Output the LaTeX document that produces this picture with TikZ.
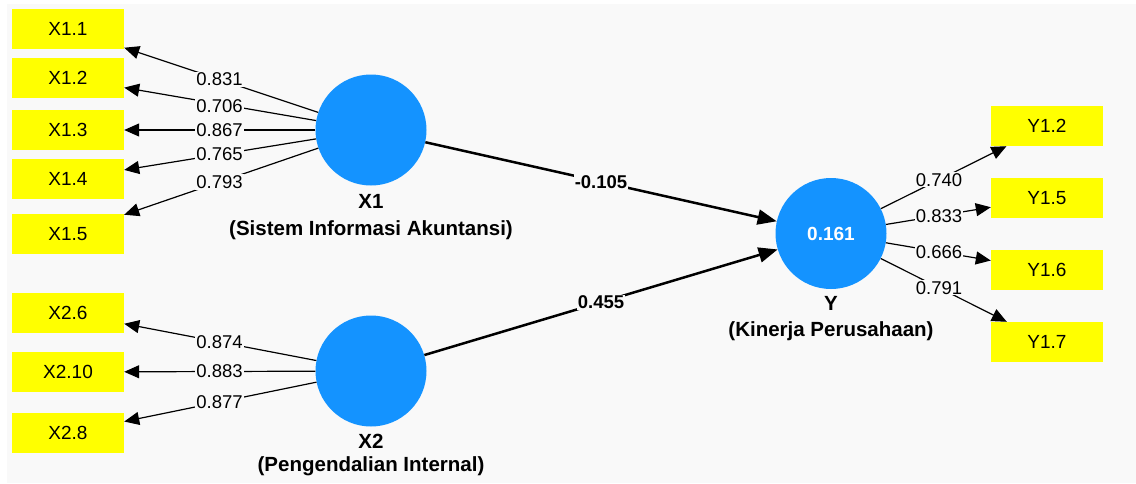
\documentclass[tikz,border=0pt]{standalone}
\usepackage{fontspec}
\setmainfont{Liberation Sans}
\usetikzlibrary{arrows.meta,calc}
\definecolor{panel}{HTML}{F9F9F9}
\definecolor{latblue}{HTML}{1493FF}
\definecolor{indyellow}{HTML}{FFFF00}
\begin{document}
\begin{tikzpicture}[x=1pt,y=-1pt,
  ind/.style={fill=indyellow, minimum width=112pt, minimum height=40pt, inner sep=0pt, font=\fontsize{19}{22}\selectfont},
  lat/.style={circle, fill=latblue, minimum size=111pt, inner sep=0pt},
  loadarrow/.style={-{Triangle[length=15pt,width=13pt]}, line width=1.2pt},
  strarrow/.style={-{Triangle[length=19pt,width=15pt]}, line width=2.5pt},
  lbl/.style={fill=panel, inner sep=1pt, font=\fontsize{18.5}{20}\selectfont},
  slbl/.style={fill=panel, inner sep=1pt, font=\bfseries\fontsize{18.5}{20}\selectfont},
  ttl/.style={font=\bfseries\fontsize{20.5}{22}\selectfont, inner sep=0pt}
]
\useasboundingbox (0,0) rectangle (1136,483);
\fill[white] (0,0) rectangle (1136,483);
\fill[panel] (7,4) rectangle (1136,483);

% indicators
\node[ind] (x11) at (68,29) {X1.1};
\node[ind] (x12) at (68,78) {X1.2};
\node[ind] (x13) at (68,130) {X1.3};
\node[ind] (x14) at (68,179) {X1.4};
\node[ind] (x15) at (68,234) {X1.5};
\node[ind] (x26) at (68,313) {X2.6};
\node[ind] (x210) at (68,372) {X2.10};
\node[ind] (x28) at (68,433) {X2.8};
\node[ind] (y12) at (1047,126) {Y1.2};
\node[ind] (y15) at (1047,198) {Y1.5};
\node[ind] (y16) at (1047,270) {Y1.6};
\node[ind] (y17) at (1047,342) {Y1.7};

% latent variables
\node[lat] (X1) at (371,130) {};
\node[lat] (X2) at (371,371) {};
\node[lat, font=\bfseries\fontsize{19}{22}\selectfont, text=white] (Y) at (831,233.5) {0.161};

\node[ttl] (tx1) at (371,201) {X1};
\node[ttl] (sx1) at (371,230) {(Sistem Informasi Akuntansi)};
\node[ttl] (tx2) at (371,441) {X2};
\node[ttl] (sx2) at (371,466) {(Pengendalian Internal)};
\node[ttl] (ty) at (831,303) {Y};
\node[ttl] (sy) at (831,331) {(Kinerja Perusahaan)};

% outer loadings
\draw[loadarrow] (X1) -- (x11);
\draw[loadarrow] (X1) -- (x12);
\draw[loadarrow] (X1) -- (x13);
\draw[loadarrow] (X1) -- (x14);
\draw[loadarrow] (X1) -- (x15);
\draw[loadarrow] (X2) -- (x26);
\draw[loadarrow] (X2) -- (x210);
\draw[loadarrow] (X2) -- (x28);
\draw[loadarrow] (Y) -- (y12);
\draw[loadarrow] (Y) -- (y15);
\draw[loadarrow] (Y) -- (y16);
\draw[loadarrow] (Y) -- (y17);

% structural paths
\draw[strarrow] (X1) -- (Y);
\draw[strarrow] (X2) -- (Y);

% labels
\node[lbl] (l11) at ($(X1)!0.5!(x11)$) {0.831};
\node[lbl] (l12) at ($(X1)!0.5!(x12)+(0,2)$) {0.706};
\node[lbl] (l13) at ($(X1)!0.5!(x13)$) {0.867};
\node[lbl] (l14) at ($(X1)!0.5!(x14)$) {0.765};
\node[lbl] (l15) at ($(X1)!0.5!(x15)$) {0.793};
\node[lbl] (l26) at ($(X2)!0.5!(x26)$) {0.874};
\node[lbl] (l210) at ($(X2)!0.5!(x210)$) {0.883};
\node[lbl] (l28) at ($(X2)!0.5!(x28)$) {0.877};
\node[lbl] (ly12) at ($(Y)!0.5!(y12)$) {0.740};
\node[lbl] (ly15) at ($(Y)!0.5!(y15)$) {0.833};
\node[lbl] (ly16) at ($(Y)!0.5!(y16)$) {0.666};
\node[lbl] (ly17) at ($(Y)!0.5!(y17)$) {0.791};
\node[slbl] (p1) at ($(X1)!0.5!(Y)$) {-0.105};
\node[slbl] (p2) at ($(X2)!0.5!(Y)$) {0.455};
\end{tikzpicture}
\end{document}
